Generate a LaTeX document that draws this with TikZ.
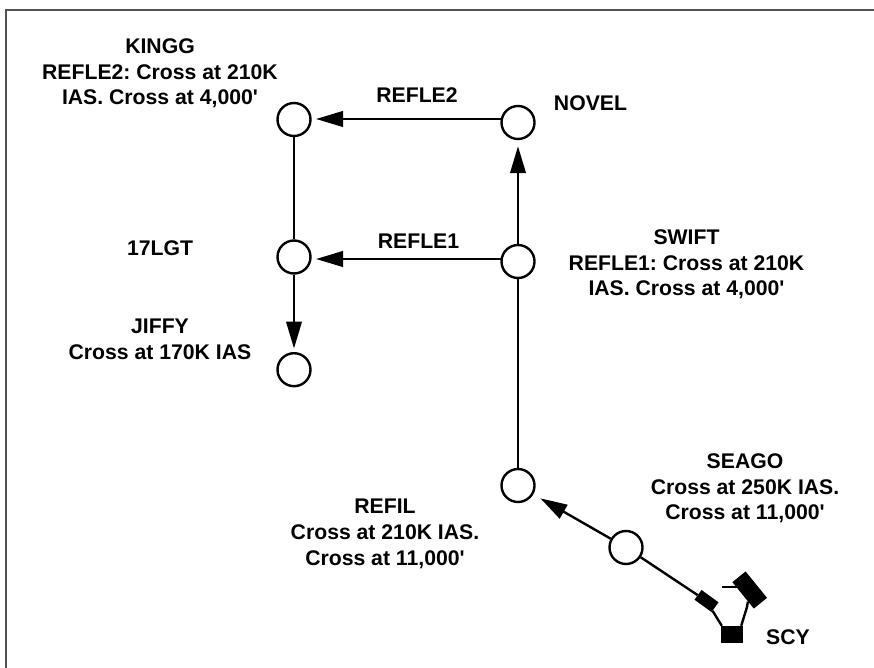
\documentclass[tikz,border=0pt]{standalone}
\usepackage{fontspec}
\setmainfont{Liberation Sans}
\usetikzlibrary{arrows.meta, positioning}

\begin{document}
\begin{tikzpicture}[x=1pt, y=-1pt,
            fix/.style={draw, circle, line width=2.4pt, minimum size=33pt, inner sep=0pt},
            fixtext/.style={font=\frenchspacing\bfseries\fontsize{21.2pt}{25.7pt}\selectfont, align=center},
            arrow/.style={line width=2.4pt, shorten >=4.5pt, -{Triangle[length=27pt,width=15.5pt]}},
            leg/.style={line width=2.4pt},
            vorpart/.style={fill=black, inner sep=0pt}]
            \useasboundingbox (0,0) rectangle (874,668);
            \draw [line width=1.6pt, draw=black!68] (6,668) -- (6,10) -- (874,10);

            % Fixes
            \node (kingg) [fix] at (294,119.5) {};
            \node (novel) [fix] at (518,122.5) {};
            \node (lgt) [fix] at (294,257) {};
            \node (swift) [fix] at (518,261.5) {};
            \node (jiffy) [fix] at (294,369.7) {};
            \node (refil) [fix] at (518,485.5) {};
            \node (seago) [fix] at (626,547.5) {};
            \coordinate (novelw) at (501,119);
            \coordinate (kingge) at (311.5,119);
            \coordinate (swiftw) at (501,259);
            \coordinate (lgte) at (311.5,259);

            % Labels
            \node (kinggtext) [fixtext] at (160,73.5) {KINGG\\REFLE2: Cross at 210K\\IAS. Cross at 4,000\textquotesingle};
            \node (noveltext) [fixtext] at (590.5,103.5) {NOVEL};
            \node (lgttext) [fixtext] at (160,248.5) {17LGT};
            \node (swifttext) [fixtext] at (686.5,264.5) {SWIFT\\REFLE1: Cross at 210K\\IAS. Cross at 4,000\textquotesingle};
            \node (jiffytext) [fixtext] at (160,339) {JIFFY\\Cross at 170K IAS};
            \node (refiltext) [fixtext] at (385,534) {REFIL\\Cross at 210K IAS.\\Cross at 11,000\textquotesingle};
            \node (seagotext) [fixtext] at (745,488.5) {SEAGO\\Cross at 250K IAS.\\Cross at 11,000\textquotesingle};
            \node (scytext) [fixtext] at (788,637.5) {SCY};
            \node (r2text) [fixtext] at (417,95.5) {REFLE2};
            \node (r1text) [fixtext] at (418.5,241.5) {REFLE1};

            % VOR symbol
            \node (scybox) [vorpart, minimum width=22pt, minimum height=17pt] at (732,634.5) {};
            \node (scyleft) [vorpart, minimum width=21pt, minimum height=12pt, rotate=-36] at (706.5,601) {};
            \node (scyright) [vorpart, minimum width=34pt, minimum height=17pt, rotate=-51] at (749.7,590) {};
            \coordinate (scytick) at (722,587);
            \coordinate (scybend) at (747,607);
            \draw [leg] (scybox.north west) ++(1,0) -- (scyleft);
            \draw [leg] (scybox.north east) ++(-2,0) -- (scybend) -- (scyright);
            \draw [leg] (scytick) -- (740,587);

            % Connections
            \draw [arrow] (novelw) -- (kingge);
            \draw [arrow] (swiftw) -- (lgte);
            \draw [arrow, shorten >=6pt] (swift) -- (novel);
            \draw [arrow, shorten >=3.5pt] (lgt) -- (jiffy);
            \draw [arrow, shorten >=8pt] (seago) -- (refil);
            \draw [leg] (kingg) -- (lgt);
            \draw [leg] (refil) -- (swift);
            \draw [leg] (seago) -- (scyleft);
        \end{tikzpicture}
\end{document}
